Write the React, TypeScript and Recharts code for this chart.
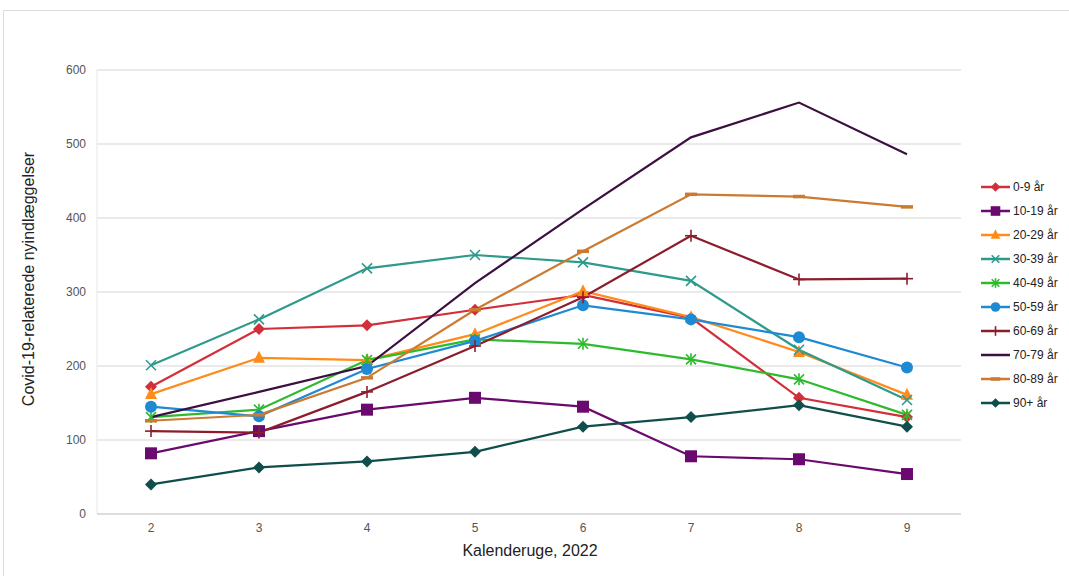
import React from 'react';
import { LineChart, Line, XAxis, YAxis, CartesianGrid } from 'recharts';

const weeks = ['2', '3', '4', '5', '6', '7', '8', '9'];
const yTicks = [0, 100, 200, 300, 400, 500, 600];

const age0_9 = [172, 250, 255, 276, 296, 265, 157, 131];
const age10_19 = [82, 112, 141, 157, 145, 78, 74, 54];
const age20_29 = [162, 211, 208, 243, 301, 266, 219, 161];
const age30_39 = [201, 263, 332, 350, 340, 315, 222, 154];
const age40_49 = [131, 141, 208, 236, 230, 209, 182, 134];
const age50_59 = [145, 132, 196, 234, 282, 263, 239, 198];
const age60_69 = [112, 110, 165, 227, 293, 376, 317, 318];
const age70_79 = [131, 165, 200, 312, 412, 509, 556, 486];
const age80_89 = [126, 134, 184, 276, 355, 432, 429, 415];
const age90p = [40, 63, 71, 84, 118, 131, 147, 118];

const seriesNames = ['0-9 år', '10-19 år', '20-29 år', '30-39 år', '40-49 år', '50-59 år', '60-69 år', '70-79 år', '80-89 år', '90+ år'];
const seriesValues = [age0_9, age10_19, age20_29, age30_39, age40_49, age50_59, age60_69, age70_79, age80_89, age90p];
const seriesColors = ['#d22f3a', '#6b0a6e', '#ff8c1a', '#2e9a8c', '#2dbb2d', '#1f8ad4', '#8c1d2c', '#3b0f40', '#cc7a30', '#0f4e4a'];
const seriesShapes = ['diamond', 'square', 'triangle', 'x', 'star', 'circle', 'plus', 'none', 'dash', 'diamond'];

const data = weeks.map((w, i) => {
  const row: Record<string, any> = { week: w };
  seriesNames.forEach((n, j) => {
    row[n] = seriesValues[j][i];
  });
  return row;
});

function Marker({ shape, color, cx, cy, k = 1 }: { shape: string; color: string; cx: number; cy: number; k?: number }) {
  const s = 6 * k;
  switch (shape) {
    case 'diamond':
      return <polygon points={`${cx},${cy - s} ${cx + s},${cy} ${cx},${cy + s} ${cx - s},${cy}`} fill={color} />;
    case 'square':
      return <rect x={cx - s} y={cy - s} width={2 * s} height={2 * s} fill={color} />;
    case 'triangle':
      return <polygon points={`${cx},${cy - s - 1} ${cx + s},${cy + s - 1} ${cx - s},${cy + s - 1}`} fill={color} />;
    case 'circle':
      return <circle cx={cx} cy={cy} r={s} fill={color} />;
    case 'x':
      return (
        <g stroke={color} strokeWidth={1.6}>
          <line x1={cx - s + 1} y1={cy - s + 1} x2={cx + s - 1} y2={cy + s - 1} />
          <line x1={cx - s + 1} y1={cy + s - 1} x2={cx + s - 1} y2={cy - s + 1} />
        </g>
      );
    case 'star':
      return (
        <g stroke={color} strokeWidth={1.6}>
          <line x1={cx - s + 1} y1={cy - s + 1} x2={cx + s - 1} y2={cy + s - 1} />
          <line x1={cx - s + 1} y1={cy + s - 1} x2={cx + s - 1} y2={cy - s + 1} />
          <line x1={cx} y1={cy - s} x2={cx} y2={cy + s} />
        </g>
      );
    case 'plus':
      return (
        <g stroke={color} strokeWidth={1.6}>
          <line x1={cx} y1={cy - s} x2={cx} y2={cy + s} />
          <line x1={cx - s} y1={cy} x2={cx + s} y2={cy} />
        </g>
      );
    case 'dash':
      return <line x1={cx - s} y1={cy} x2={cx + s} y2={cy} stroke={color} strokeWidth={3.5} />;
    default:
      return null;
  }
}

const makeDot = (shape: string, color: string) => (props: any) => {
  const { cx, cy, index } = props;
  if (shape === 'none' || cx == null || cy == null) return <g key={`d-${index}`} />;
  return (
    <g key={`d-${index}`}>
      <Marker shape={shape} color={color} cx={cx} cy={cy} />
    </g>
  );
};

export default function App() {
  return (
    <div style={{ position: 'relative', width: 1069, height: 576, background: '#fff', overflow: 'hidden' }}>
      <style>{`body{margin:0}`}</style>
      <div
        style={{
          position: 'absolute',
          left: 3,
          top: 10,
          width: 1100,
          height: 600,
          borderLeft: '1px solid #dcdcdc',
          borderTop: '1px solid #dcdcdc',
        }}
      />
      <div style={{ position: 'absolute', left: 0, top: 0 }}>
        <LineChart
          width={1069}
          height={576}
          data={data}
          margin={{ top: 70, right: 108, bottom: 32, left: 40 }}
          style={{ fontFamily: 'Liberation Sans, Arial, sans-serif' }}
        >
          <CartesianGrid vertical={false} stroke="#e3e3e3" strokeWidth={1.5} />
          <XAxis
            dataKey="week"
            scale="band"
            height={30}
            axisLine={{ stroke: '#d8d8d8', strokeWidth: 1.5 }}
            tickLine={false}
            tick={{ fill: '#555', fontSize: 12 }}
            tickMargin={3}
            label={{
              content: () => (
                <text x={530} y={556} textAnchor="middle" fontSize={16} fill="#222">
                  Kalenderuge, 2022
                </text>
              ),
            }}
          />
          <YAxis
            width={57}
            domain={[0, 600]}
            ticks={yTicks}
            interval={0}
            axisLine={{ stroke: '#e6e6e6' }}
            tickLine={false}
            tick={{ fill: '#555', fontSize: 12 }}
            tickMargin={5}
            label={{
              content: () => (
                <text x={0} y={0} transform="translate(34,279) rotate(-90)" textAnchor="middle" fontSize={16} fill="#222">
                  Covid-19-relaterede nyindlæggelser
                </text>
              ),
            }}
          />
          {seriesNames.map((n, i) => (
            <Line
              key={n}
              dataKey={n}
              type="linear"
              stroke={seriesColors[i]}
              strokeWidth={2.2}
              dot={makeDot(seriesShapes[i], seriesColors[i])}
              activeDot={false}
              isAnimationActive={false}
            />
          ))}
        </LineChart>
      </div>
      <div
        style={{
          position: 'absolute',
          left: 980,
          top: 175,
          width: 90,
          fontFamily: 'Liberation Sans, Arial, sans-serif',
          fontSize: 12,
          color: '#222',
        }}
      >
        {seriesNames.map((n, i) => (
          <div key={n} style={{ display: 'flex', alignItems: 'center', height: 24 }}>
            <svg width={31} height={14} style={{ marginRight: 2 }}>
              <line x1={1} y1={7} x2={30} y2={7} stroke={seriesColors[i]} strokeWidth={2.5} />
              <Marker shape={seriesShapes[i]} color={seriesColors[i]} cx={15.5} cy={7} k={0.8} />
            </svg>
            <span>{n}</span>
          </div>
        ))}
      </div>
    </div>
  );
}
